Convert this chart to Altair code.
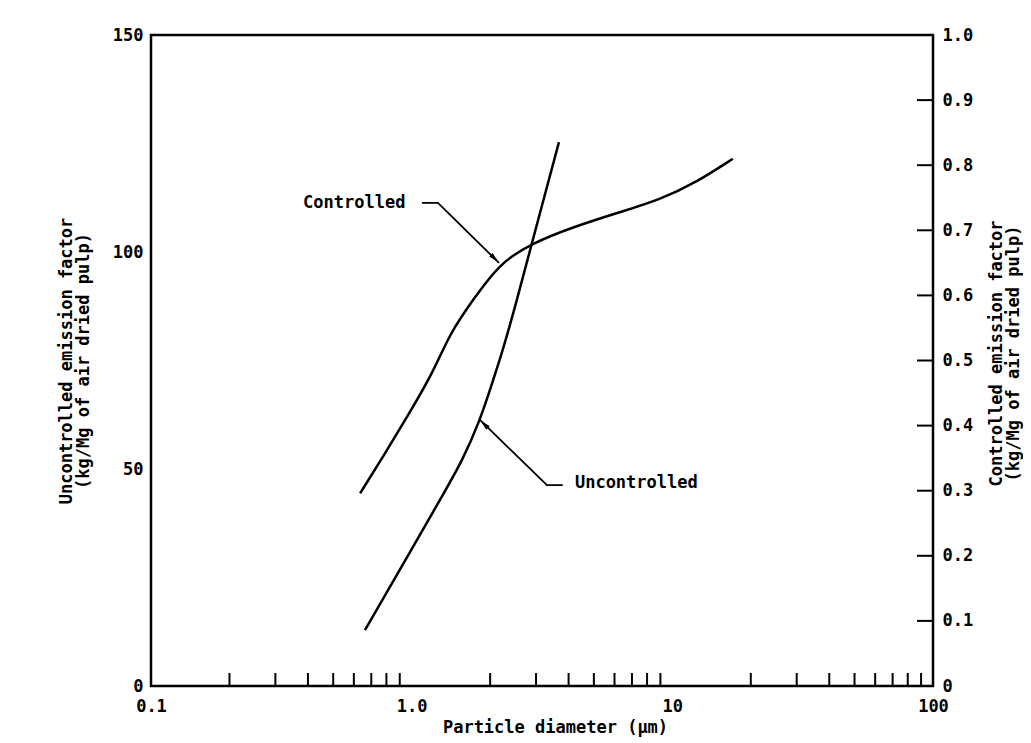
import altair as alt
import pandas as pd

# ---- data ----
unc_d = [0.662, 1.048, 1.284, 1.573, 1.828, 1.997, 2.240, 2.534, 2.894, 3.304, 3.673]
unc_v = [12.9, 33.6, 42.9, 52.1, 61.3, 68.2, 77.4, 88.9, 102.1, 115.0, 125.3]

con_d = [0.634, 0.776, 0.959, 1.207, 1.402, 1.718, 2.182, 2.894, 4.156, 6.295, 8.96, 12.42, 17.07]
con_v = [0.296, 0.352, 0.413, 0.481, 0.542, 0.593, 0.650, 0.680, 0.705, 0.728, 0.747, 0.774, 0.810]

x_label_values = [0.1, 1, 10, 100]
x_label_texts = ["0.1", "1.0", "10", "100"]
x_minor = [m * 10 ** e for e in (-1, 0, 1) for m in range(2, 10)]

left_values = [0, 50, 100, 150]
right_values = [0, 0.1, 0.2, 0.3, 0.4, 0.5, 0.6, 0.7, 0.8, 0.9, 1.0]
right_ticks = [0.1, 0.2, 0.3, 0.4, 0.5, 0.6, 0.7, 0.8, 0.9]

# annotation leaders (left-axis units)
lead_g = ["c", "c", "c", "u", "u", "u"]
lead_o = [0, 1, 2, 0, 1, 2]
lead_d = [1.095, 1.261, 2.163, 3.80, 3.304, 1.828]
lead_v = [111.3, 111.3, 97.5, 46.3, 46.3, 61.3]

arrow_d = [2.163, 1.828]
arrow_v = [97.5, 61.3]
arrow_a = [135, 315]

label_text = ["Controlled", "Uncontrolled"]
label_d = [0.383, 4.23]
label_v = [111.3, 46.8]

FONT = "DejaVu Sans Mono"
FS = 17
W, H = 782, 651

# ---- frames ----
unc = pd.DataFrame({"d": unc_d, "v": unc_v})
con = pd.DataFrame({"d": con_d, "v": con_v})
xt = pd.DataFrame({"d": x_minor})
rt = pd.DataFrame({"v": right_ticks})
lead = pd.DataFrame({"g": lead_g, "o": lead_o, "d": lead_d, "v": lead_v})
arr = pd.DataFrame({"d": arrow_d, "v": arrow_v, "a": arrow_a})
lab = pd.DataFrame({"t": label_text, "d": label_d, "v": label_v})

expr = "''"
for val, txt in reversed(list(zip(x_label_values, x_label_texts))):
    expr = f"(abs(datum.value - {val}) < 1e-9 ? '{txt}' : {expr})"

xscale = alt.Scale(type="log", domain=[0.1, 100], nice=False)
xaxis = alt.Axis(values=x_label_values, labelExpr=expr, ticks=False, domain=False,
                 grid=False, labelFont=FONT, labelFontSize=FS, labelFontWeight="bold",
                 labelColor="black", labelPadding=12, labelFlush=False,
                 title="Particle diameter (µm)", titleFont=FONT, titleFontSize=FS,
                 titleFontWeight="bold", titleColor="black", titlePadding=5, titleX=404)
X = alt.X("d:Q", scale=xscale, axis=xaxis)

lscale = alt.Scale(domain=[0, 150], nice=False, zero=False)
rscale = alt.Scale(domain=[0, 1], nice=False, zero=False)

laxis = alt.Axis(orient="left", values=left_values, ticks=False, domain=False, grid=False,
                 labelFont=FONT, labelFontSize=FS, labelFontWeight="bold", labelColor="black",
                 labelPadding=8, labelFlush=False,
                 title=["Uncontrolled emission factor", "(kg/Mg of air dried pulp)"],
                 titleFont=FONT, titleFontSize=FS, titleFontWeight="bold", titleColor="black",
                 titleLineHeight=17, titlePadding=20)
raxis = alt.Axis(orient="right", values=right_values, ticks=False, domain=False, grid=False,
                 labelExpr="datum.value == 0 ? '0' : format(datum.value, '.1f')",
                 labelFont=FONT, labelFontSize=FS, labelFontWeight="bold", labelColor="black",
                 labelPadding=9, labelFlush=False,
                 title=["Controlled emission factor", "(kg/Mg of air dried pulp)"],
                 titleFont=FONT, titleFontSize=FS, titleFontWeight="bold", titleColor="black",
                 titleLineHeight=17, titleAngle=270, titleBaseline="top",
                 titleX=55, titleY=318, titleAlign="center")

unc_line = alt.Chart(unc).mark_line(color="black", strokeWidth=2.5, interpolate="basis").encode(
    x=X, y=alt.Y("v:Q", scale=lscale, axis=laxis))
con_line = alt.Chart(con).mark_line(color="black", strokeWidth=2.5, interpolate="basis").encode(
    x=X, y=alt.Y("v:Q", scale=rscale, axis=raxis))
r_ticks = alt.Chart(rt).mark_rule(color="black", strokeWidth=2).encode(
    y=alt.Y("v:Q", scale=rscale, axis=None), x=alt.value(W), x2=alt.value(W - 16))
x_ticks = alt.Chart(xt).mark_rule(color="black", strokeWidth=2).encode(
    x=X, y=alt.value(H), y2=alt.value(H - 13))
leaders = alt.Chart(lead).mark_line(color="black", strokeWidth=1.8).encode(
    x=X, y=alt.Y("v:Q", scale=lscale, axis=None), detail="g:N", order="o:Q")
arrows = alt.Chart(arr).mark_point(shape="M0,0L0.5,2.4L-0.5,2.4Z", filled=True, size=90,
                                   color="black", opacity=1).encode(
    x=X, y=alt.Y("v:Q", scale=lscale, axis=None), angle=alt.Angle("a:Q", scale=None))
labels = alt.Chart(lab).mark_text(font=FONT, fontSize=FS, fontWeight="bold", align="left",
                                  baseline="middle", color="black").encode(
    x=X, y=alt.Y("v:Q", scale=lscale, axis=None), text="t:N")

chart = alt.layer(unc_line, con_line, r_ticks, x_ticks, leaders, arrows, labels).resolve_scale(
    y="independent").properties(
    width=W, height=H,
    autosize=alt.AutoSizeParams(type="none"),
    padding={"left": 143, "top": 27, "right": 90, "bottom": 56},
    background="white",
).configure_view(stroke="black", strokeWidth=2.5)

chart.save("out.html", embed_options={"renderer": "svg", "actions": False})
